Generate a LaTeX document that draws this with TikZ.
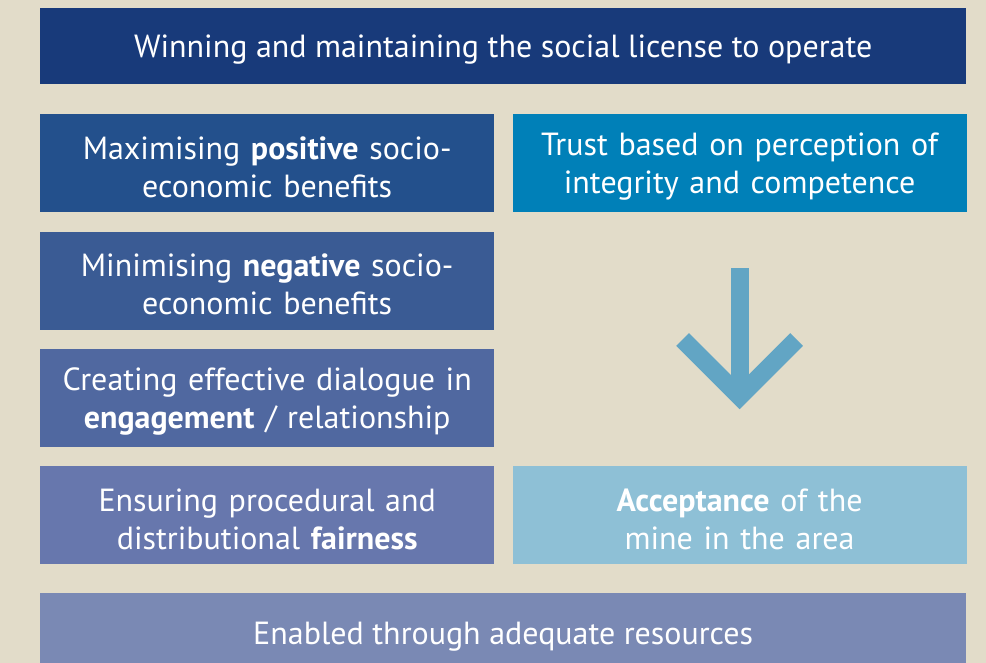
\documentclass[tikz,border=0pt]{standalone}
\usepackage{fontspec}
\setmainfont{PT Sans}
\usetikzlibrary{positioning}
\definecolor{slSand}{HTML}{E2DCC9}
\definecolor{slNavy}{HTML}{183A7A}
\definecolor{slBlueA}{HTML}{23508C}
\definecolor{slBlueB}{HTML}{3A5B94}
\definecolor{slBlueC}{HTML}{5068A0}
\definecolor{slBlueD}{HTML}{6777AD}
\definecolor{slBlueE}{HTML}{7A89B4}
\definecolor{slCyan}{HTML}{0080B8}
\definecolor{slSky}{HTML}{8EC0D6}
\definecolor{slArrow}{HTML}{62A5C4}
\newcommand{\boxfont}{\fontsize{32}{38}\selectfont}
% taller first line, pushes the lettering a little lower in its box
\newcommand{\topstrut}{\rule{0pt}{30pt}}

\tikzset{
  banner/.style={fill=#1,text=white,minimum width=926pt,minimum height=76pt,
    inner sep=0pt,align=center,font=\boxfont,execute at begin node=\topstrut},
  tile/.style={fill=#1,text=white,minimum width=454pt,minimum height=98pt,
    text width=450pt,inner sep=0pt,align=center,font=\boxfont,
    execute at begin node=\topstrut},
  downarrow/.style={draw=slArrow,line width=18pt,line cap=butt,line join=miter},
}

\begin{document}
\begin{tikzpicture}[x=1pt,y=-1pt]
  \fill[slSand] (0,0) rectangle (986,663);
  \useasboundingbox (0,0) rectangle (986,663);

  \node[banner=slNavy,anchor=north west] (license) at (40,8)
    {Winning and maintaining the social license to operate};

  % left column
  \node[tile=slBlueA,anchor=north west] (positive) at (40,114)
    {Maximising \textbf{positive} socio-\\economic benefits};
  \node[tile=slBlueB,below=19pt of positive] (negative)
    {Minimising \textbf{negative} socio-\\economic benefits};
  \node[tile=slBlueC,below=19pt of negative] (dialogue)
    {Creating effective dialogue in\\\textbf{engagement} / relationship};
  \node[tile=slBlueD,below=19pt of dialogue] (fairness)
    {Ensuring procedural and\\distributional \textbf{fairness}};

  % right column
  \node[tile=slCyan,right=18pt of positive] (trust)
    {Trust based on perception of\\integrity and competence};
  \node[tile=slSky,right=18pt of fairness] (accept)
    {\textbf{Acceptance} of the\\mine in the area};

  \node[banner=slBlueE,minimum height=80pt,anchor=north west] (resources) at (40,593)
    {Enabled through adequate resources};

  % arrow from trust to acceptance
  \coordinate (shafttop) at ([yshift=-56pt]trust.south);
  \coordinate (bend) at ([yshift=69.7pt]accept.north);
  \draw[downarrow] (shafttop) -- (bend);
  \draw[downarrow] ([shift={(-57,-57)}]bend) -- (bend) -- ([shift={(57,-57)}]bend);
\end{tikzpicture}
\end{document}
